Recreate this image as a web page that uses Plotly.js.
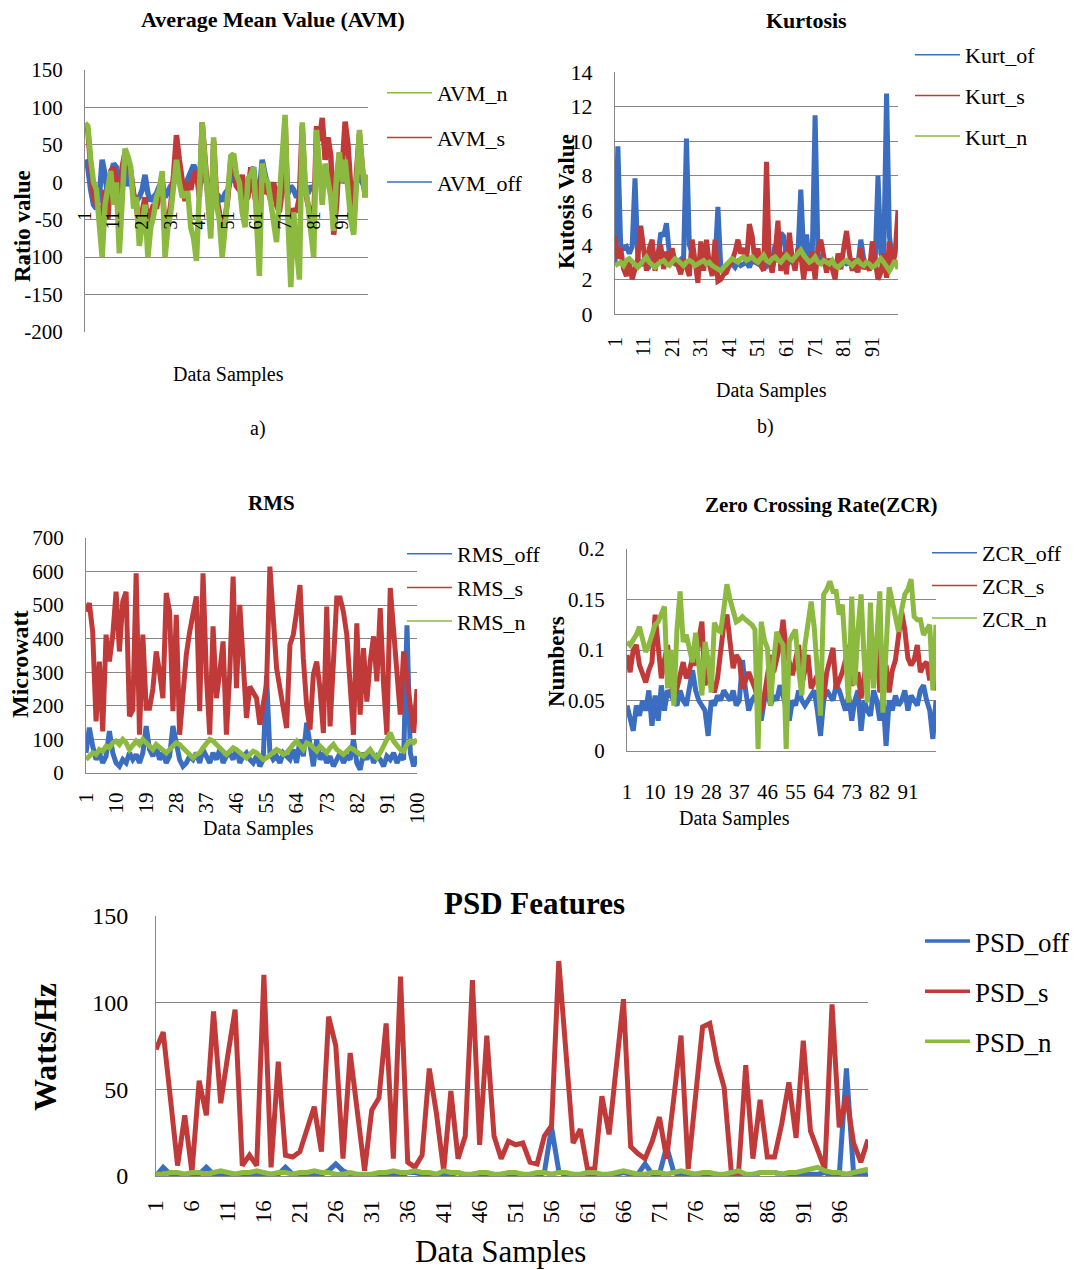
<!DOCTYPE html>
<html><head><meta charset="utf-8">
<script src="https://cdn.plot.ly/plotly-3.0.1.min.js"></script>
<style>html,body{margin:0;padding:0;background:#fff}#chart{width:1083px;height:1270px}</style>
</head><body><div id="chart"></div>
<script>
const samples = Array.from({length:100},(_,i)=>i+1);

// a) Average Mean Value (AVM)
const avmOff = [30,20,-10,-30,-35,-20,30,10,-20,10,25,20,-10,15,20,-5,10,-20,-25,-20,-10,10,-15,-25,-20,-15,-5,0,-20,-10,-5,0,5,10,0,-10,5,15,23,15,-10,20,10,-15,-20,10,-15,-20,-25,-15,-10,5,10,-5,-10,-15,-20,-10,15,20,-20,-15,30,10,-5,-10,-5,-10,-15,-10,-10,-15,-5,-10,-20,-15,-5,-10,-15,-5,-10,5,10,0,-5,5,0,-10,-5,10,0,5,0,-10,-15,0,10,0,-10,5];
const avmS = [75,70,20,-20,-30,-35,-45,-10,-50,15,20,0,-30,20,40,20,15,-15,-30,-70,-40,-20,-60,-40,-30,-35,-15,10,-75,-55,-30,10,63,30,5,-25,0,-10,10,15,-20,80,30,-25,-60,55,-20,-40,-70,-50,-20,30,35,-5,-10,10,-25,-20,20,-10,-30,-30,20,-15,-10,-25,0,-30,-40,-10,85,-40,-60,-35,-40,-20,75,-10,-30,-40,-60,75,55,86,30,60,35,-70,-30,40,20,81,50,-10,-55,15,65,20,-20,10];
const avmN = [79,75,30,0,-10,-50,-100,-30,-5,15,-30,0,-95,-20,45,35,20,-35,-20,-85,-50,-30,-100,-60,-45,-20,-10,15,-100,-60,-40,0,30,0,-20,-15,-15,-60,-75,-105,-10,80,25,-30,-75,60,-30,-50,-100,-60,-20,35,38,10,0,-40,-60,5,10,20,-50,-125,25,5,0,-30,-50,-80,-20,30,90,-50,-140,-40,-90,-130,80,0,-30,-60,-100,70,20,-30,25,0,-20,-65,10,40,0,30,-20,-50,-70,20,70,20,-20,10];
const avmTicks = [1,11,21,31,41,51,61,71,81,91];
const avmYTicks = [150,100,50,0,-50,-100,-150,-200];

// b) Kurtosis
const kurtOf = [2.9,9.7,3.9,3.8,3.9,3.5,3.9,7.85,3.2,2.8,3.1,3.0,2.8,3.2,3.0,3.3,4.7,4.5,5.25,3.5,3.0,2.9,3.0,3.2,3.3,10.15,4.0,3.5,3.0,2.8,3.1,3.0,2.9,3.1,2.8,3.0,6.2,2.7,2.6,2.7,2.8,2.9,2.7,3.0,2.8,2.9,3.0,2.7,3.1,3.0,2.9,3.2,3.0,2.8,3.1,3.0,4.0,3.0,4.7,4.5,3.2,3.0,3.2,3.1,3.5,7.2,3.5,4.6,3.0,3.4,11.5,3.5,3.0,2.9,3.0,2.8,3.0,2.9,3.1,2.8,3.0,2.9,3.0,2.7,2.6,2.9,4.3,3.2,2.9,3.0,2.8,3.0,8.0,3.5,3.2,12.75,4.5,3.2,3.0,2.9];
const kurtS = [4.5,3.2,3.8,2.6,2.2,3.0,2.0,2.6,3.2,5.1,3.5,2.5,3.8,4.3,2.5,3.5,4.0,2.6,3.6,2.8,3.8,3.0,2.8,2.3,3.2,2.6,2.2,4.3,2.8,1.8,4.2,2.5,4.3,2.9,2.2,4.3,1.9,2.0,2.3,2.4,2.8,3.1,3.6,4.3,3.5,3.8,3.0,5.2,4.5,2.9,3.8,2.8,2.5,8.8,3.0,2.4,3.5,5.4,2.5,3.6,2.3,4.7,3.2,2.5,3.8,3.4,2.0,3.3,2.5,3.6,2.0,3.8,4.3,3.1,2.4,3.2,2.6,2.0,3.5,2.6,3.8,4.8,3.5,2.5,3.2,2.4,3.8,2.6,3.0,2.5,4.2,2.8,2.0,2.4,3.5,2.1,4.2,2.8,3.5,6.0];
const kurtN = [2.8,2.9,3.0,2.8,3.1,3.2,3.0,2.9,2.7,2.9,3.1,3.3,3.0,2.8,2.7,2.9,3.0,3.1,2.9,2.8,3.0,3.2,3.1,2.9,2.8,3.0,3.1,3.0,2.8,2.9,3.0,3.1,2.9,3.0,2.8,2.7,2.6,2.5,2.7,2.9,3.1,3.2,3.1,3.0,3.2,3.3,3.1,3.2,3.3,3.1,3.0,3.2,3.4,3.1,3.0,3.2,3.3,3.1,3.0,3.2,3.4,3.2,3.1,3.3,3.5,3.7,3.4,3.2,3.0,3.1,3.3,3.0,2.9,3.1,3.0,2.9,3.1,2.8,2.7,2.9,3.0,3.1,2.9,2.8,3.0,3.1,2.9,2.8,3.0,2.9,2.7,2.8,3.0,3.2,3.0,2.7,2.5,2.8,3.1,2.6];
const kurtTicks = [1,11,21,31,41,51,61,71,81,91];

// RMS
const rmsOff = [60,135,80,40,60,30,50,125,60,30,20,40,30,60,40,55,30,60,140,70,50,80,40,60,30,50,140,90,40,20,30,50,40,60,30,70,50,30,60,40,70,30,50,60,40,70,30,50,60,40,30,50,20,40,290,60,40,50,30,60,50,40,70,30,100,50,150,80,20,100,40,60,30,50,20,40,60,30,50,40,100,30,10,60,40,70,30,50,40,20,50,40,60,30,50,40,440,60,20,50];
const rmsS = [481,506,420,154,332,124,412,332,410,540,362,511,540,169,188,595,114,412,193,193,250,362,300,223,536,481,184,471,114,250,352,420,471,526,184,595,293,114,437,223,300,392,114,300,585,253,501,300,164,258,240,223,144,200,263,615,480,312,253,200,134,382,412,480,560,342,200,129,293,332,250,119,496,139,300,521,521,480,412,250,114,446,174,372,213,332,407,273,491,263,114,551,430,283,174,362,280,174,120,250];
const rmsN = [40,50,60,55,70,65,80,75,90,95,85,100,90,70,80,95,85,100,90,80,70,85,75,65,60,70,80,90,85,75,60,50,45,55,60,75,90,100,95,85,70,60,55,65,75,70,60,50,45,55,65,60,50,40,45,55,60,70,65,55,60,75,85,95,80,70,90,85,75,65,80,70,60,75,85,70,60,55,65,75,70,60,55,50,60,70,55,45,60,80,100,120,95,80,70,65,85,95,90,100];
const rmsTicks = [1,10,19,28,37,46,55,64,73,82,91,100];

// Zero Crossing Rate (ZCR)
const zcrOff = [0.045,0.03,0.02,0.045,0.035,0.05,0.04,0.06,0.025,0.055,0.03,0.065,0.04,0.06,0.055,0.05,0.045,0.06,0.05,0.045,0.06,0.08,0.06,0.05,0.045,0.04,0.015,0.05,0.045,0.055,0.05,0.06,0.055,0.05,0.06,0.045,0.05,0.09,0.06,0.04,0.05,0.055,0.045,0.03,0.05,0.06,0.045,0.055,0.05,0.065,0.055,0.04,0.03,0.05,0.045,0.06,0.05,0.045,0.05,0.055,0.06,0.04,0.015,0.05,0.06,0.055,0.05,0.065,0.06,0.05,0.04,0.055,0.03,0.05,0.06,0.02,0.05,0.04,0.035,0.06,0.05,0.03,0.055,0.005,0.05,0.04,0.055,0.045,0.05,0.06,0.04,0.055,0.05,0.045,0.06,0.065,0.05,0.04,0.012,0.05];
const zcrS = [0.095,0.078,0.1,0.105,0.085,0.075,0.068,0.08,0.088,0.135,0.1,0.072,0.09,0.105,0.07,0.055,0.062,0.075,0.088,0.072,0.08,0.092,0.085,0.11,0.128,0.065,0.082,0.07,0.058,0.072,0.1,0.125,0.135,0.11,0.082,0.095,0.09,0.062,0.07,0.078,0.07,0.062,0.05,0.038,0.055,0.075,0.095,0.078,0.09,0.105,0.13,0.1,0.088,0.075,0.09,0.105,0.065,0.08,0.095,0.062,0.07,0.075,0.06,0.052,0.078,0.09,0.102,0.062,0.07,0.078,0.09,0.105,0.065,0.072,0.078,0.052,0.07,0.095,0.072,0.09,0.112,0.058,0.07,0.085,0.058,0.08,0.09,0.115,0.138,0.12,0.092,0.085,0.09,0.105,0.078,0.085,0.088,0.07,0.098,0.06];
const zcrN = [0.108,0.105,0.11,0.115,0.123,0.11,0.098,0.105,0.117,0.125,0.128,0.135,0.143,0.062,0.1,0.045,0.12,0.158,0.108,0.115,0.1,0.088,0.117,0.09,0.055,0.108,0.09,0.058,0.127,0.12,0.118,0.14,0.165,0.15,0.138,0.128,0.13,0.133,0.13,0.127,0.125,0.12,0.002,0.128,0.11,0.102,0.045,0.09,0.118,0.11,0.105,0.002,0.108,0.115,0.12,0.08,0.055,0.105,0.13,0.148,0.122,0.08,0.035,0.155,0.16,0.168,0.158,0.158,0.135,0.145,0.1,0.048,0.153,0.065,0.12,0.155,0.09,0.048,0.147,0.062,0.11,0.158,0.038,0.1,0.162,0.148,0.13,0.118,0.14,0.155,0.16,0.17,0.133,0.13,0.13,0.115,0.12,0.125,0.06,0.125];
const zcrTicks = [1,10,19,28,37,46,55,64,73,82,91];

// PSD Features
const psdOff = [0,5,1,0,1,1,1,5,1,0,1,1,0,1,1,0,1,1,5,1,0,1,1,1,3,7,3,1,0,0,0,1,1,1,0,2,2,1,1,0,1,1,2,0,1,1,0,0,1,1,0,1,0,0,2,28,3,0,1,0,1,1,0,1,1,2,1,1,7,1,1,17,2,0,1,1,1,1,1,0,1,1,0,0,2,2,2,1,0,1,1,1,1,2,0,0,62,1,0,1];
const psdS = [73,83,45,6,35,2,55,35,95,42,70,96,6,12,6,116,5,66,12,11,14,27,40,14,92,75,10,71,36,3,38,45,88,10,115,8,5,12,62,36,3,49,10,23,113,18,81,23,10,20,18,19,8,7,23,29,124,70,19,27,4,4,46,24,62,102,17,13,10,20,34,10,45,81,4,45,86,88,66,51,2,2,64,10,44,11,11,30,54,22,78,26,15,4,99,28,46,19,8,21];
const psdN = [1,1,2,2,1,2,2,1,2,3,2,1,2,2,3,2,1,2,2,1,2,2,3,2,2,1,1,2,1,1,1,2,2,3,2,2,3,2,2,1,3,2,2,1,1,2,2,1,1,2,2,1,1,2,2,1,2,2,1,1,2,2,1,1,2,3,2,1,1,2,2,1,2,3,2,1,2,2,1,1,2,3,1,1,2,2,2,1,2,2,3,4,5,3,2,2,1,2,3,4];
const psdTicks = [1,6,11,16,21,26,31,36,41,46,51,56,61,66,71,76,81,86,91,96];

const W = 1083, H = 1270;
const fx = p => p / W;
const fy = p => 1 - p / H;
const BLUE = '#3B6EC0', RED = '#C03A3A', GREEN = '#8CB940';
const GRID = '#878787';
const SERIF = '"Liberation Serif", "Times New Roman", Times, serif';

const traces = [];
function addData(ax, ys, colors, lw) {
  const xa = 'x' + ax, ya = 'y' + ax;
  ys.forEach((y, k) => {
    traces.push({x: samples, y: y, xaxis: xa, yaxis: ya, type: 'scatter', mode: 'lines',
      line: {color: colors[k], width: lw}, showlegend: false, hoverinfo: 'skip'});
  });
}
function addLegend(ax, names, colors, lw, legendId) {
  const xa = 'x' + ax, ya = 'y' + ax;
  names.forEach((n, k) => {
    traces.push({x: [null], y: [null], xaxis: xa, yaxis: ya, type: 'scatter', mode: 'lines',
      name: n, line: {color: colors[k], width: lw}, legend: legendId,
      legendgroup: legendId + '_' + k, showlegend: true});
  });
}
// draw order: off, s, n (n on top)
addData('', [avmOff, avmS, avmN], [BLUE, RED, GREEN], 5.5);
addLegend('', ['AVM_n', 'AVM_s', 'AVM_off'], [GREEN, RED, BLUE], 1.5, 'legend');
addData('2', [kurtOf, kurtS, kurtN], [BLUE, RED, GREEN], 5);
addLegend('2', ['Kurt_of', 'Kurt_s', 'Kurt_n'], [BLUE, RED, GREEN], 1.5, 'legend2');
addData('3', [rmsOff, rmsS, rmsN], [BLUE, RED, GREEN], 5);
addLegend('3', ['RMS_off', 'RMS_s', 'RMS_n'], [BLUE, RED, GREEN], 1.5, 'legend3');
addData('4', [zcrOff, zcrS, zcrN], [BLUE, RED, GREEN], 5);
addLegend('4', ['ZCR_off', 'ZCR_s', 'ZCR_n'], [BLUE, RED, GREEN], 1.5, 'legend4');
addData('5', [psdOff, psdS, psdN], [BLUE, RED, GREEN], 5);
addLegend('5', ['PSD_off', 'PSD_s', 'PSD_n'], [BLUE, RED, GREEN], 3.5, 'legend5');

const tf = s => ({family: SERIF, size: s, color: '#000'});
function yax(top, bottom, range, opts) {
  return Object.assign({domain: [fy(bottom), fy(top)], range: range, showgrid: true, gridcolor: GRID, gridwidth: 1,
    showline: true, linecolor: GRID, linewidth: 1, zeroline: false, ticks: '', tickfont: tf(21),
    ticklabelstandoff: 17, fixedrange: true}, opts);
}
function xax(left, right, tickvals, opts) {
  return Object.assign({domain: [fx(left), fx(right)], range: [1, 100], showgrid: false, zeroline: false,
    showline: true, linecolor: GRID, linewidth: 1, ticks: '', tickvals: tickvals, ticktext: tickvals.map(String),
    tickangle: -90, tickfont: tf(20), fixedrange: true}, opts);
}
function leg(xp, yp, size, gap) {
  return {x: fx(xp), y: fy(yp), xanchor: 'left', yanchor: 'top', bgcolor: 'rgba(0,0,0,0)',
    font: tf(size), tracegroupgap: gap, itemwidth: 45, traceorder: 'grouped'};
}
function ann(text, x, y, size, bold, angle) {
  return {text: bold ? '<b>' + text + '</b>' : text, x: fx(x), y: fy(y), xref: 'paper', yref: 'paper',
    showarrow: false, xanchor: 'center', yanchor: 'middle', textangle: angle || 0, font: tf(size)};
}

const layout = {
  width: W, height: H, margin: {l: 0, r: 0, t: 0, b: 0},
  paper_bgcolor: '#fff', plot_bgcolor: 'rgba(0,0,0,0)', showlegend: true,
  xaxis: xax(85, 368, avmTicks, {anchor: 'free', position: fy(207), showline: false, tickfont: tf(18)}),
  yaxis: yax(70, 332, [-200, 150], {tickvals: avmYTicks, ticktext: avmYTicks.map(String)}),
  xaxis2: xax(615, 898, kurtTicks, {anchor: 'y2', ticklabelstandoff: 14}),
  yaxis2: yax(72, 314, [0, 14], {dtick: 2, anchor: 'x2', tickfont: tf(22)}),
  xaxis3: xax(86, 417, rmsTicks, {anchor: 'y3', ticklabelstandoff: 10, tickfont: tf(21)}),
  yaxis3: yax(538, 773, [0, 700], {dtick: 100, anchor: 'x3'}),
  xaxis4: xax(627, 936, zcrTicks, {anchor: 'y4', tickangle: 0, ticklabelstandoff: 22, tickfont: tf(21)}),
  yaxis4: yax(549, 751, [0, 0.2], {anchor: 'x4', tickvals: [0, 0.05, 0.1, 0.15, 0.2], ticktext: ['0','0.05','0.1','0.15','0.2']}),
  xaxis5: xax(156, 868, psdTicks, {anchor: 'y5', ticklabelstandoff: 14, tickfont: tf(23)}),
  yaxis5: yax(916, 1176, [0, 150], {dtick: 50, anchor: 'x5', tickfont: tf(24), ticklabelstandoff: 22}),
  legend: leg(382, 72, 22, 13),
  legend2: leg(910, 34, 22, 9),
  legend3: leg(402, 533, 22, 2),
  legend4: leg(927, 532, 22, 1),
  legend5: leg(920, 917, 27, 12),
  annotations: [
    ann('Average Mean Value (AVM)', 273, 20, 22, true),
    ann('Ratio value', 22, 226, 23, true, -90),
    ann('Data Samples', 228, 375, 20, false),
    ann('a)', 258, 428, 20, false),
    ann('Kurtosis', 806, 21, 22, true),
    ann('Kutosis Value', 567, 202, 23, true, -90),
    ann('Data Samples', 771, 390, 20, false),
    ann('b)', 765, 426, 20, false),
    ann('RMS', 271, 503, 21, true),
    ann('Microwatt', 20, 664, 24, true, -90),
    ann('Data Samples', 258, 828, 20, false),
    ann('Zero Crossing Rate(ZCR)', 821, 505, 21, true),
    ann('Numbers', 556, 662, 23, true, -90),
    ann('Data Samples', 734, 818, 20, false),
    ann('PSD Features', 534, 903, 31, true),
    ann('Watts/Hz', 45, 1047, 32, true, -90),
    ann('Data Samples', 500, 1251, 31, false)
  ]
};

Plotly.newPlot('chart', traces, layout, {staticPlot: true, displayModeBar: false});
</script>
</body></html>
